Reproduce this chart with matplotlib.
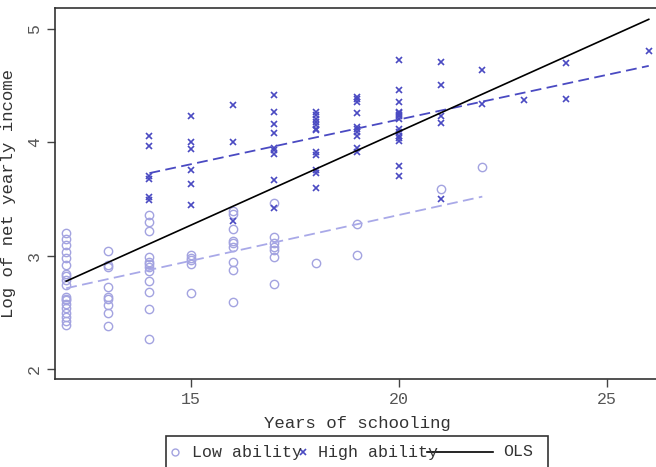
import numpy as np
import matplotlib
matplotlib.use("Agg")
import matplotlib.pyplot as plt
from matplotlib.lines import Line2D
from matplotlib.patches import Rectangle

plt.rcParams["font.family"] = ["Liberation Mono", "DejaVu Sans Mono"]

# schooling years and log income
low_x = [12] * 19 + [13] * 9 + [14] * 12 + [15] * 5 + [16] * 9 + [17] * 7 + [18, 19, 19, 21, 22]
low_y = [3.20, 3.15, 3.10, 3.03, 2.98, 2.92, 2.84, 2.82, 2.79, 2.74,
         2.64, 2.61, 2.58, 2.54, 2.50, 2.46, 2.43, 2.39, 2.62,
         3.04, 2.92, 2.90, 2.73, 2.64, 2.62, 2.57, 2.50, 2.38,
         3.36, 3.30, 3.22, 2.99, 2.95, 2.93, 2.90, 2.87, 2.78, 2.68, 2.53, 2.27,
         3.01, 2.98, 2.96, 2.93, 2.67,
         3.40, 3.37, 3.24, 3.13, 3.11, 3.08, 2.95, 2.88, 2.59,
         3.47, 3.17, 3.11, 3.08, 3.05, 2.99, 2.75,
         2.94, 3.28, 3.01, 3.59, 3.78]

high_x = ([14] * 6 + [15] * 6 + [16] * 3 + [17] * 9 + [18] * 12 + [19] * 10
          + [20] * 15 + [21] * 5 + [22] * 2 + [23] + [24] * 2 + [26])
high_y = [4.06, 3.97, 3.70, 3.68, 3.52, 3.49,
          4.23, 4.00, 3.94, 3.76, 3.63, 3.45,
          4.33, 4.00, 3.31,
          4.42, 4.27, 4.16, 4.08, 3.95, 3.93, 3.90, 3.67, 3.42,
          4.27, 4.24, 4.21, 4.18, 4.15, 4.12, 4.11, 3.92, 3.89, 3.76, 3.73, 3.60,
          4.40, 4.38, 4.36, 4.26, 4.14, 4.12, 4.09, 4.06, 3.95, 3.92,
          4.73, 4.46, 4.36, 4.27, 4.26, 4.24, 4.23, 4.21, 4.12, 4.09, 4.06, 4.04, 4.01, 3.79, 3.70,
          4.71, 4.51, 4.23, 4.17, 3.50,
          4.64, 4.34,
          4.37,
          4.70, 4.38,
          4.81]

low_col = "#a3a3e0"
high_col = "#4a4ac2"
txt_col = "#333333"

fig = plt.figure(figsize=(6.56, 4.67), dpi=100)
ax = fig.add_axes([55 / 656, 88 / 467, 605 / 656, 371 / 467])

ax.plot(low_x, low_y, "o", ms=6, mfc="none", mec=low_col, mew=1.0, ls="none")
ax.plot(high_x, high_y, "x", ms=5, mec=high_col, mew=1.2, ls="none")

# group fits and pooled OLS
lx = np.array(low_x, float)
ly = np.array(low_y)
hx = np.array(high_x, float)
hy = np.array(high_y)
b_low = np.polyfit(lx, ly, 1)
b_high = np.polyfit(hx, hy, 1)
ax_all = np.concatenate([lx, hx])
ay_all = np.concatenate([ly, hy])
b_all = np.polyfit(ax_all, ay_all, 1)

xs = np.array([lx.min(), lx.max()])
ax.plot(xs, np.polyval(b_low, xs), color="#a9a9e8", lw=1.3, ls=(0, (6, 3)))
xs = np.array([hx.min(), hx.max()])
ax.plot(xs, np.polyval(b_high, xs), color=high_col, lw=1.3, ls=(0, (6, 3)))
xs = np.array([ax_all.min(), ax_all.max()])
ax.plot(xs, np.polyval(b_all, xs), color="black", lw=1.2)

ax.set_xlim(11.731, 26.27)
ax.set_ylim(1.915, 5.185)
ax.set_xticks([15, 20, 25])
ax.set_yticks([2, 3, 4, 5])
ax.tick_params(direction="out", length=6, width=1, color="#444444",
               labelcolor="#555555", labelsize=12)
for lab in ax.get_yticklabels():
    lab.set_rotation(90)
    lab.set_va("center")
ax.spines["right"].set_visible(False)
for s in ["left", "bottom", "top"]:
    ax.spines[s].set_color("#333333")
    ax.spines[s].set_linewidth(1.2)

ax.set_xlabel("Years of schooling", fontsize=12.5, color=txt_col, labelpad=6)
ax.set_ylabel("Log of net yearly income", fontsize=12.5, color=txt_col, labelpad=8)

# legend box drawn by hand, it runs off the bottom of the figure
W, H = 656.0, 467.0
fig.patches.append(Rectangle((166 / W, -0.02), 382 / W, (467 - 436) / H + 0.02,
                             transform=fig.transFigure, fill=False,
                             ec="#333333", lw=1.2))
ly0 = (467 - 452) / H
fig.lines.append(Line2D([175 / W], [ly0], marker="o", ms=5, mfc="none",
                        mec=low_col, mew=1.0, transform=fig.transFigure))
fig.text(192 / W, ly0, "Low ability", fontsize=12, color=txt_col, va="center")
fig.lines.append(Line2D([303 / W], [ly0], marker="x", ms=5, mec=high_col,
                        mew=1.2, transform=fig.transFigure))
fig.text(318 / W, ly0, "High ability", fontsize=12, color=txt_col, va="center")
fig.lines.append(Line2D([427 / W, 493 / W], [ly0, ly0], color="black", lw=1.2,
                        transform=fig.transFigure))
fig.text(503 / W, ly0, "OLS", fontsize=12, color=txt_col, va="center")

fig.savefig("out.png", dpi=100)
